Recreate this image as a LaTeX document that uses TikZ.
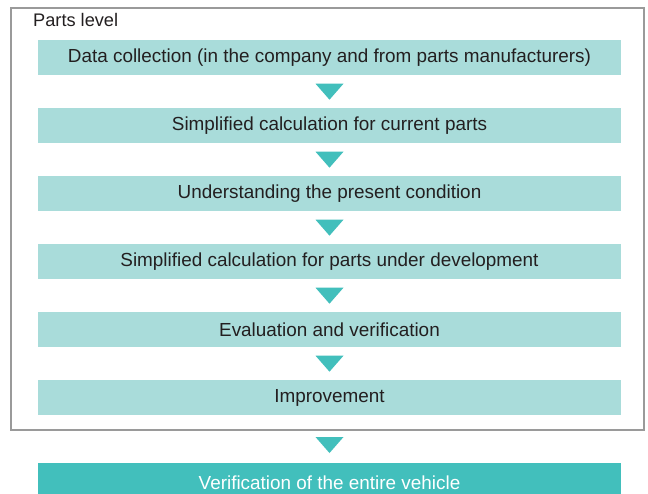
\documentclass[tikz,border=0pt]{standalone}
\usepackage{fontspec}
\setmainfont{Liberation Sans}
\usetikzlibrary{calc}
\definecolor{lightteal}{HTML}{A9DCDA}
\definecolor{teal}{HTML}{42BFBC}
\definecolor{framegray}{HTML}{9A9A9A}
\definecolor{txt}{HTML}{231F20}
\tikzset{
  stepbox/.style={fill=lightteal, minimum width=583pt, minimum height=35pt,
    inner sep=0pt, text=txt, font=\fontsize{18.9}{20}\selectfont, anchor=north},
  finalbox/.style={stepbox, fill=teal, text=white},
  marker/.style={fill=teal, draw=none}
}
\newcommand{\downmark}[1]{%
  \fill[marker] ($#1+(-14,-8)$) -- ($#1+(14,-8)$) -- ($#1+(0,8)$) -- cycle;}
\begin{document}
\begin{tikzpicture}[x=1pt,y=-1pt]
\useasboundingbox (0,0) rectangle (648,493);
% outer frame for the parts level
\draw[framegray, line width=2.6pt] (11,8) rectangle (644,430);
\node[anchor=west, inner sep=0pt, text=txt, font=\fontsize{18.2}{20}\selectfont] (lvl) at (33,20) {Parts level};
% process steps
\node[stepbox] (s1) at (329.5,40)  {Data collection (in the company and from parts manufacturers)};
\node[stepbox] (s2) at (329.5,108) {Simplified calculation for current parts};
\node[stepbox] (s3) at (329.5,176) {Understanding the present condition};
\node[stepbox] (s4) at (329.5,244) {Simplified calculation for parts under development};
\node[stepbox] (s5) at (329.5,312) {Evaluation and verification};
\node[stepbox] (s6) at (329.5,380) {Improvement};
\node[finalbox, minimum height=40pt] (s7) at (329.5,463) {\raisebox{-6pt}{Verification of the entire vehicle}};
% down markers between steps
\downmark{($(s1.south)!0.5!(s2.north)$)}
\downmark{($(s2.south)!0.5!(s3.north)$)}
\downmark{($(s3.south)!0.5!(s4.north)$)}
\downmark{($(s4.south)!0.5!(s5.north)$)}
\downmark{($(s5.south)!0.5!(s6.north)$)}
\coordinate (m7) at (329.5,445);
\downmark{(m7)}
\end{tikzpicture}
\end{document}
